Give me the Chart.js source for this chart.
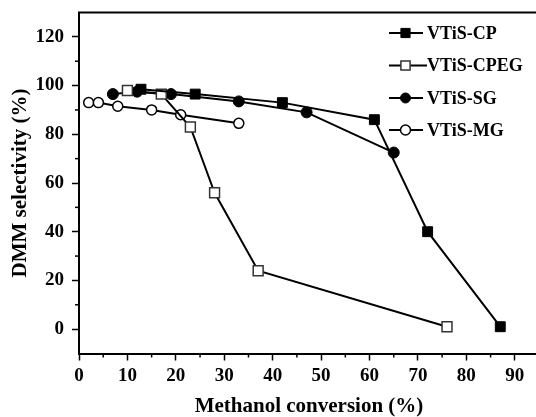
<!DOCTYPE html>
<html><head><meta charset="utf-8">
<script src="https://cdn.jsdelivr.net/npm/chart.js@4.4.0/dist/chart.umd.min.js"></script>
<style>html,body{margin:0;padding:0;overflow:hidden;background:#fff}canvas{display:block}</style>
</head><body><canvas id="c" width="539" height="417"></canvas>
<script>
const seriesNames = ['VTiS-CP', 'VTiS-CPEG', 'VTiS-SG', 'VTiS-MG'];
const cpX = [12.8, 24, 42, 61, 72, 87];
const cpY = [98.5, 96.5, 93, 86, 40, 1];
const cpegX = [10, 17, 23, 28, 37, 76];
const cpegY = [98, 96.5, 83, 56, 24, 1];
const sgX = [7, 12, 19, 33, 47, 65];
const sgY = [96.5, 97.5, 96.5, 93.5, 89, 72.5];
const mgX = [2, 4, 8, 15, 21, 33];
const mgY = [93, 93, 91.5, 90, 88, 84.5];
const xTickLabels = ['0','10','20','30','40','50','60','70','80','90'];
const yTickLabels = ['0','20','40','60','80','100','120'];
const xTitle = 'Methanol conversion (%)';
const yTitle = 'DMM selectivity (%)';

const pts = (xs, ys) => xs.map((x, i) => ({x: x, y: ys[i]}));
const FONT = 'Liberation Serif';

const styles = [
  {pointStyle: 'rect', pointRadius: 7, pointBackgroundColor: '#000', pointBorderColor: '#000', pointBorderWidth: 1},
  {pointStyle: 'rect', pointRadius: 7, pointBackgroundColor: '#fff', pointBorderColor: '#333', pointBorderWidth: 1.5},
  {pointStyle: 'circle', pointRadius: 5.5, pointBackgroundColor: '#000', pointBorderColor: '#000', pointBorderWidth: 1},
  {pointStyle: 'circle', pointRadius: 5, pointBackgroundColor: '#fff', pointBorderColor: '#000', pointBorderWidth: 1.5}
];
const dataArr = [pts(cpX, cpY), pts(cpegX, cpegY), pts(sgX, sgY), pts(mgX, mgY)];
const datasets = seriesNames.map((n, i) => Object.assign({
  label: n, data: dataArr[i], borderColor: '#000', borderWidth: 2, showLine: true, fill: false, tension: 0, clip: 20
}, styles[i]));

const zeroPad = s => { s.paddingTop = 0; s.paddingBottom = 0; s.paddingLeft = 0; s.paddingRight = 0; };

const extras = {
  id: 'extras',
  afterDraw(chart) {
    const ctx = chart.ctx, a = chart.chartArea;
    ctx.save();
    ctx.strokeStyle = '#000';
    ctx.lineWidth = 2;
    ctx.beginPath(); ctx.moveTo(a.left - 1, a.top); ctx.lineTo(a.right, a.top); ctx.stroke();
    // minor ticks
    ctx.lineWidth = 1.5;
    const xs = chart.scales.x, ys = chart.scales.y;
    xs.ticks.forEach(t => {
      if (t.value % 10 !== 0 && t.value < 95) {
        const px = xs.getPixelForValue(t.value);
        ctx.beginPath(); ctx.moveTo(px, a.bottom); ctx.lineTo(px, a.bottom + 4); ctx.stroke();
      }
    });
    ys.ticks.forEach(t => {
      if (t.value % 20 !== 0 && t.value > -10 && t.value < 130) {
        const py = ys.getPixelForValue(t.value);
        ctx.beginPath(); ctx.moveTo(a.left, py); ctx.lineTo(a.left - 4, py); ctx.stroke();
      }
    });
    // legend
    const rows = [33, 65.5, 98, 130];
    chart.data.datasets.forEach((ds, i) => {
      const y = rows[i];
      ctx.strokeStyle = '#000'; ctx.lineWidth = 2;
      ctx.beginPath(); ctx.moveTo(389, y); ctx.lineTo(i === 1 ? 427 : 423, y); ctx.stroke();
      ctx.fillStyle = ds.pointBackgroundColor; ctx.strokeStyle = ds.pointBorderColor;
      ctx.lineWidth = ds.pointBorderWidth;
      Chart.helpers.drawPoint(ctx, {pointStyle: ds.pointStyle, rotation: 0, radius: ds.pointStyle === 'rect' ? 6.5 : 5, borderWidth: ds.pointBorderWidth}, 405.5, y);
      ctx.fillStyle = '#000';
      ctx.font = 'bold 18px "' + FONT + '"';
      ctx.textBaseline = 'middle'; ctx.textAlign = 'left';
      ctx.fillText(ds.label, 427, y + 1);
    });
    ctx.restore();
  }
};

new Chart(document.getElementById('c'), {
  type: 'scatter',
  data: {datasets: datasets},
  options: {
    responsive: false, animation: false, devicePixelRatio: 1,
    layout: {autoPadding: false, padding: {top: 12.5, right: 0, bottom: 0, left: 0}},
    plugins: {legend: {display: false}, tooltip: {enabled: false}},
    scales: {
      x: {
        type: 'linear', min: 0, max: 95,
        afterFit: s => { s.height = 63.5; zeroPad(s); },
        border: {color: '#000', width: 2},
        grid: {drawOnChartArea: false, drawTicks: true, tickLength: 7, tickWidth: 1.5,
          tickColor: c => (c.tick && c.tick.value % 10 === 0 && c.tick.value <= 90) ? '#000' : 'rgba(0,0,0,0)'},
        ticks: {stepSize: 5, autoSkip: false, maxRotation: 0, padding: 4, color: '#000',
          font: {family: FONT, size: 19, weight: 'bold'},
          callback: v => xTickLabels.includes(String(v)) ? String(v) : ''},
        title: {display: true, text: xTitle, color: '#000', font: {family: FONT, size: 21, weight: 'bold', lineHeight: 1}, padding: {top: 0, bottom: 0}}
      },
      y: {
        type: 'linear', min: -10, max: 130,
        afterFit: s => { s.width = 79; zeroPad(s); },
        border: {color: '#000', width: 2},
        grid: {drawOnChartArea: false, drawTicks: true, tickLength: 7, tickWidth: 1.5,
          tickColor: c => (c.tick && yTickLabels.includes(String(c.tick.value))) ? '#000' : 'rgba(0,0,0,0)'},
        ticks: {stepSize: 10, autoSkip: false, padding: 8, color: '#000',
          font: {family: FONT, size: 19, weight: 'bold'},
          callback: v => yTickLabels.includes(String(v)) ? String(v) : ''},
        title: {display: true, text: yTitle, color: '#000', font: {family: FONT, size: 21, weight: 'bold', lineHeight: 1}, padding: {top: 10, bottom: 0}}
      }
    }
  },
  plugins: [extras]
});
</script></body></html>
